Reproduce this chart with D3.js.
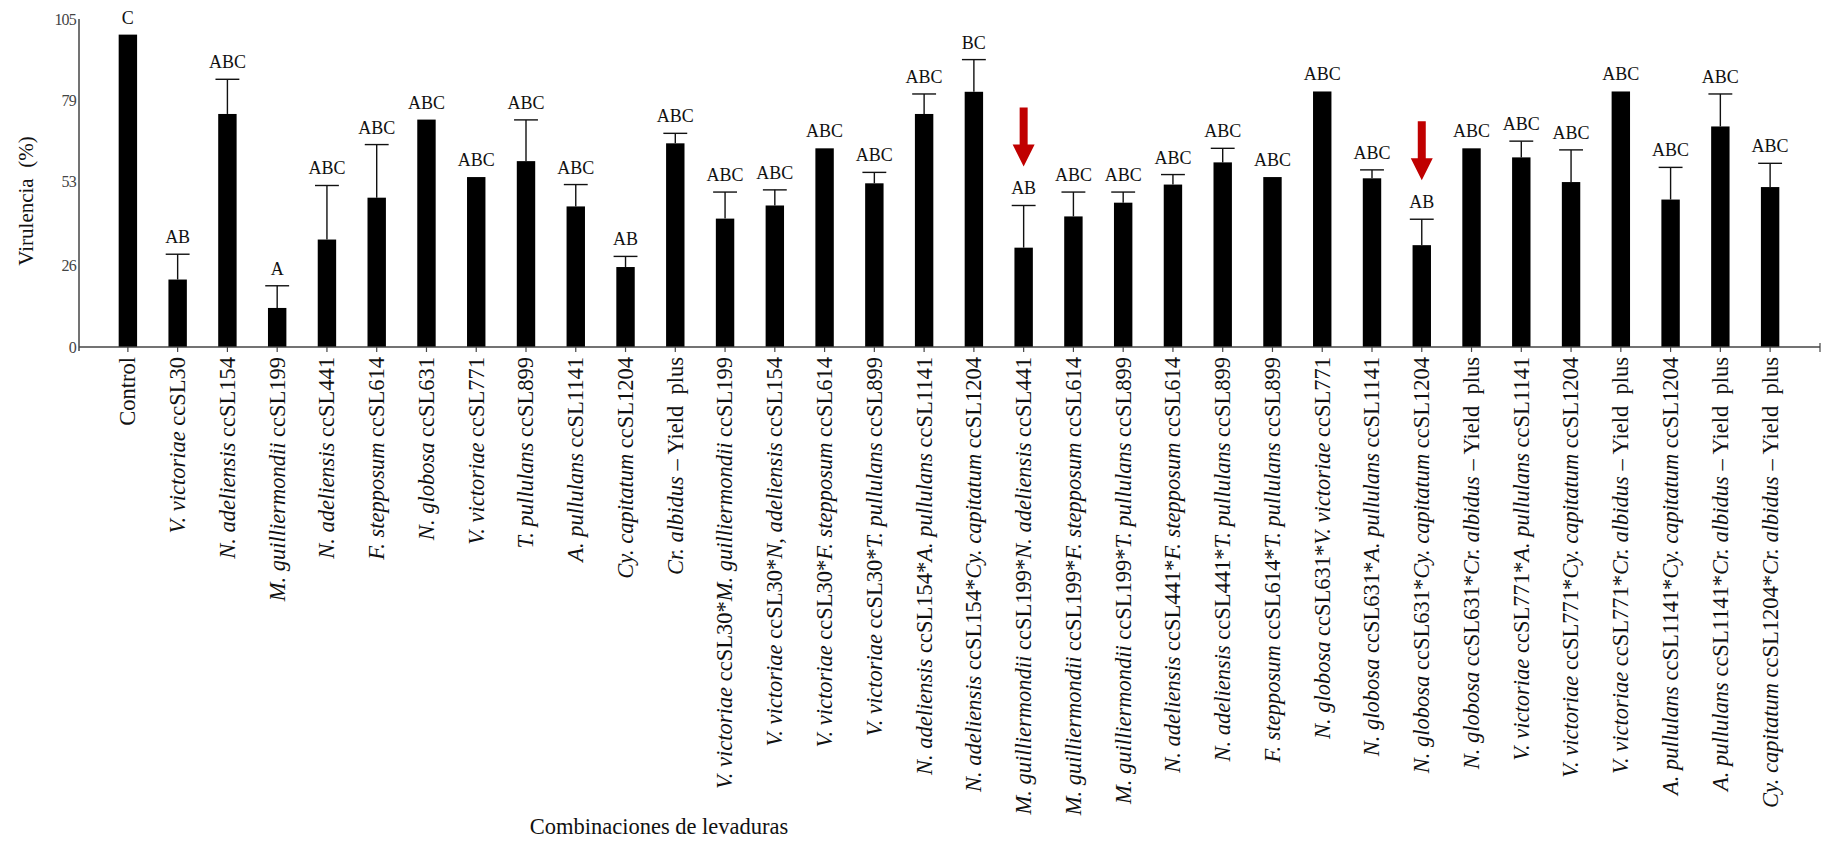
<!DOCTYPE html>
<html>
<head>
<meta charset="utf-8">
<script src="https://cdn.jsdelivr.net/npm/d3@7"></script>
<style>
  html, body { margin: 0; padding: 0; background: #fff; }
  svg { display: block; font-family: "Liberation Serif", "Times New Roman", serif; }
  text { white-space: pre; }
</style>
</head>
<body>
<svg id="chart" width="1822" height="843"></svg>
<script>
// Yeast treatments (italic parts wrapped in underscores)
const categories = [
  "Control",
  "_V. victoriae_ ccSL30",
  "_N. adeliensis_ ccSL154",
  "_M. guilliermondii_ ccSL199",
  "_N. adeliensis_ ccSL441",
  "_F. stepposum_ ccSL614",
  "_N. globosa_ ccSL631",
  "_V. victoriae_ ccSL771",
  "_T. pullulans_ ccSL899",
  "_A. pullulans_ ccSL1141",
  "_Cy. capitatum_ ccSL1204",
  "_Cr. albidus_ – Yield  plus",
  "_V. victoriae_ ccSL30*_M. guilliermondii_ ccSL199",
  "_V. victoriae_ ccSL30*_N, adeliensis_ ccSL154",
  "_V. victoriae_ ccSL30*_F. stepposum_ ccSL614",
  "_V. victoriae_ ccSL30*_T. pullulans_ ccSL899",
  "_N. adeliensis_ ccSL154*_A. pullulans_ ccSL1141",
  "_N. adeliensis_ ccSL154*_Cy. capitatum_ ccSL1204",
  "_M. guilliermondii_ ccSL199*_N. adeliensis_ ccSL441",
  "_M. guilliermondii_ ccSL199*_F. stepposum_ ccSL614",
  "_M. guilliermondii_ ccSL199*_T. pullulans_ ccSL899",
  "_N. adeliensis_ ccSL441*_F. stepposum_ ccSL614",
  "_N. adeliensis_ ccSL441*_T. pullulans_ ccSL899",
  "_F. stepposum_ ccSL614*_T. pullulans_ ccSL899",
  "_N. globosa_ ccSL631*_V. victoriae_ ccSL771",
  "_N. globosa_ ccSL631*_A. pullulans_ ccSL1141",
  "_N. globosa_ ccSL631*_Cy. capitatum_ ccSL1204",
  "_N. globosa_ ccSL631*_Cr. albidus_ – Yield  plus",
  "_V. victoriae_ ccSL771*_A. pullulans_ ccSL1141",
  "_V. victoriae_ ccSL771*_Cy. capitatum_ ccSL1204",
  "_V. victoriae_ ccSL771*_Cr. albidus_ – Yield  plus",
  "_A. pullulans_ ccSL1141*_Cy. capitatum_ ccSL1204",
  "_A. pullulans_ ccSL1141*_Cr. albidus_ – Yield  plus",
  "_Cy. capitatum_ ccSL1204*_Cr. albidus_ – Yield  plus"
];

// Mean virulence (%)
const virulence = [
  100.0, 21.6, 74.6, 12.5, 34.4, 47.8, 72.8, 54.4, 59.5, 45.0, 25.6, 65.2,
  41.1, 45.3, 63.6, 52.4, 74.6, 81.7, 31.8, 41.8, 46.2, 52.0, 59.1, 54.4,
  81.8, 54.0, 32.6, 63.6, 60.7, 52.8, 81.8, 47.2, 70.6, 51.2
];

// Standard error (upper whisker only); 0 = no error bar drawn
const stdError = [
  0, 8.1, 11.1, 7.1, 17.3, 17.0, 0, 0, 13.2, 7.0, 3.4, 3.2,
  8.5, 5.0, 0, 3.5, 6.4, 10.3, 13.5, 7.8, 3.4, 3.2, 4.5, 0,
  0, 2.7, 8.3, 0, 5.2, 10.3, 0, 10.3, 10.4, 7.6
];

// Tukey grouping letters
const groups = [
  "C", "AB", "ABC", "A", "ABC", "ABC", "ABC", "ABC", "ABC", "ABC", "AB", "ABC",
  "ABC", "ABC", "ABC", "ABC", "ABC", "BC", "AB", "ABC", "ABC", "ABC", "ABC", "ABC",
  "ABC", "ABC", "AB", "ABC", "ABC", "ABC", "ABC", "ABC", "ABC", "ABC"
];

// Treatments marked with an arrow
const highlighted = [
  "_M. guilliermondii_ ccSL199*_N. adeliensis_ ccSL441",
  "_N. globosa_ ccSL631*_Cy. capitatum_ ccSL1204"
];

const yTicks = [0, 26, 53, 79, 105];

const SERIF = "'Liberation Serif', 'Times New Roman', serif";
const svg = d3.select("#chart");

const x = d3.scaleBand().domain(categories).range([103, 1795]).padding(0);
const y = d3.scaleLinear().domain([0, 105]).range([347, 19]);

const barW = x.step() * 0.37;
const capW = x.step() * 0.48;
const cx = d => x(d) + x.bandwidth() / 2;

const rows = categories.map((c, i) => ({
  cat: c, v: virulence[i], e: stdError[i], g: groups[i],
  flag: highlighted.includes(c)
}));

// Bars
svg.append("g").selectAll("rect").data(rows).join("rect")
  .attr("x", d => cx(d.cat) - barW / 2)
  .attr("y", d => y(d.v))
  .attr("width", barW)
  .attr("height", d => y(0) - y(d.v))
  .attr("fill", "#000");

// Error bars
const eb = svg.append("g").attr("stroke", "#111").attr("stroke-width", 1.4)
  .selectAll("g").data(rows.filter(d => d.e > 0)).join("g");
eb.append("line")
  .attr("x1", d => cx(d.cat)).attr("x2", d => cx(d.cat))
  .attr("y1", d => y(d.v)).attr("y2", d => y(d.v + d.e));
eb.append("line")
  .attr("x1", d => cx(d.cat) - capW / 2).attr("x2", d => cx(d.cat) + capW / 2)
  .attr("y1", d => y(d.v + d.e)).attr("y2", d => y(d.v + d.e));

// Group letters
const letterBase = d => y(d.v + d.e) - 11;
svg.append("g").selectAll("text").data(rows).join("text")
  .attr("x", d => cx(d.cat))
  .attr("y", letterBase)
  .attr("text-anchor", "middle")
  .attr("font-family", SERIF)
  .attr("font-size", 18)
  .attr("fill", "#111")
  .text(d => d.g);

// Arrows above highlighted treatments
const arrowLen = 59, headLen = 22, headW = 22, shaftW = 8;
svg.append("g").selectAll("path").data(rows.filter(d => d.flag)).join("path")
  .attr("fill", "#c00000")
  .attr("d", d => {
    const xc = cx(d.cat), tip = letterBase(d) - 28, top = tip - arrowLen;
    const hb = tip - headLen;
    return `M${xc - shaftW / 2},${top} L${xc + shaftW / 2},${top} L${xc + shaftW / 2},${hb}
            L${xc + headW / 2},${hb} L${xc},${tip} L${xc - headW / 2},${hb}
            L${xc - shaftW / 2},${hb} Z`;
  });

// X axis: baseline, ticks and rotated treatment names
svg.append("line")
  .attr("x1", 79).attr("x2", 1820)
  .attr("y1", y(0)).attr("y2", y(0))
  .attr("stroke", "#444").attr("stroke-width", 1.5);
svg.append("line")
  .attr("x1", 1820).attr("x2", 1820)
  .attr("y1", y(0) - 4).attr("y2", y(0) + 5)
  .attr("stroke", "#444").attr("stroke-width", 1.2);

const xAxis = svg.append("g")
  .attr("transform", `translate(0,${y(0)})`)
  .call(d3.axisBottom(x).tickSize(5).tickFormat(""));
xAxis.select(".domain").remove();
xAxis.selectAll(".tick line").attr("stroke", "#444").attr("stroke-width", 1.2);

const labels = svg.append("g").selectAll("text").data(categories).join("text")
  .attr("transform", d => `translate(${cx(d)},${y(0) + 10}) rotate(-90)`)
  .attr("text-anchor", "end")
  .attr("dy", "0.33em")
  .attr("font-family", SERIF)
  .attr("font-size", 22.5)
  .attr("fill", "#111");
labels.each(function (d) {
  const t = d3.select(this);
  d.split("_").forEach((part, i) => {
    if (!part) return;
    t.append("tspan").attr("font-style", i % 2 ? "italic" : "normal").text(part);
  });
});

// Y axis
const yAxis = svg.append("g")
  .attr("transform", "translate(79,0)")
  .call(d3.axisLeft(y).tickValues(yTicks).tickSize(0).tickPadding(3));
yAxis.select(".domain").remove();
yAxis.selectAll(".tick text")
  .attr("font-family", SERIF)
  .attr("font-size", 16)
  .attr("letter-spacing", -0.8)
  .attr("fill", "#444");
svg.append("line")
  .attr("x1", 79).attr("x2", 79)
  .attr("y1", y(105)).attr("y2", y(0) + 4)
  .attr("stroke", "#444").attr("stroke-width", 1.5);

// Axis titles
svg.append("text")
  .attr("transform", `translate(26,${(y(0) + y(105)) / 2 + 18}) rotate(-90)`)
  .attr("text-anchor", "middle")
  .attr("dy", "0.35em")
  .attr("font-family", SERIF)
  .attr("font-size", 21)
  .attr("fill", "#111")
  .text("Virulencia  (%)");

svg.append("text")
  .attr("x", 659).attr("y", 834)
  .attr("text-anchor", "middle")
  .attr("font-family", SERIF)
  .attr("font-size", 22.5)
  .attr("fill", "#111")
  .text("Combinaciones de levaduras");
</script>
</body>
</html>
